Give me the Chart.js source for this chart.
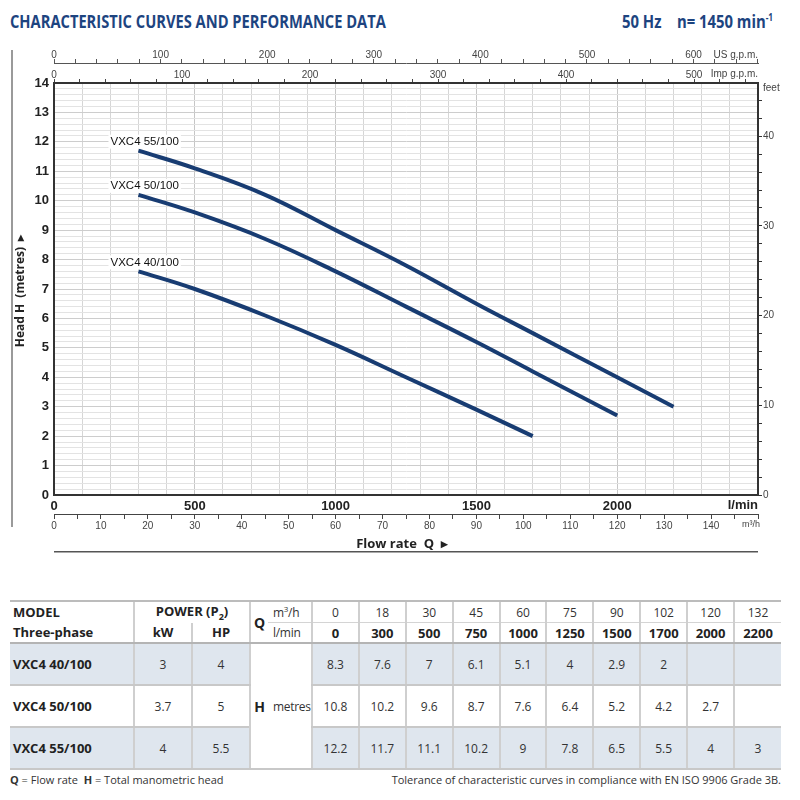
<!DOCTYPE html>
<html>
<head>
<meta charset="UTF-8">
<title>VXC4 - Characteristic curves and performance data</title>
<script src="https://cdn.jsdelivr.net/npm/chart.js"></script>
<style>
  body { margin: 0; width: 800px; height: 800px; position: relative; overflow: hidden; background: #fff; font-family: "Open Sans", Arial, sans-serif; }
  .head { position: absolute; top: 9px; font-weight: 700; font-size: 18px; color: #1d4480; white-space: nowrap; }
  #title { left: 10px; transform-origin: left center; }
  #speed { right: 27px; transform-origin: right center; }
  #speed sup { font-size: 10px; }
  #chartBox { position: absolute; left: 0; top: 0; width: 800px; height: 560px; }
  #perf { position: absolute; left: 10px; top: 600px; width: 771px; border-collapse: collapse; table-layout: fixed; font-size: 12px; color: #333; }
  #perf td { padding: 0; text-align: center; border: none; }
  #perf tr.h1 td { height: 20px; border-top: 2px solid #bcbcbc; }
  #perf tr.h2 td { height: 19px; border-bottom: 2px solid #b4b4b4; }
  #perf tr.d td { height: 40px; border-bottom: 2px solid #c8c8c8; }
  #perf tr.shade td { background: #dfe6ee; }
  #perf td.vl { border-left: 2px solid #cfcfcf; }
  #perf td.mid { border-bottom: 1px solid #d4d4d4; }
  #perf td.model { text-align: left; padding-left: 3px; font-weight: 700; font-size: 13px; color: #222; }
  #perf td.b { font-weight: 700; color: #222; }
  #perf td.big { font-weight: 700; font-size: 14px; color: #222; }
  #perf td.unit { text-align: left; padding-left: 5px; letter-spacing: -0.3px; }
  #perf tr.shade td.white { background: #fff; }
  .foot { position: absolute; top: 772px; font-size: 11px; color: #333; white-space: nowrap; }
</style>
</head>
<body>
<div id="title" class="head">CHARACTERISTIC CURVES AND PERFORMANCE DATA</div>
<div id="speed" class="head">50 Hz &nbsp;&nbsp; n= 1450 min<sup>-1</sup></div>
<div id="chartBox"><canvas id="curveChart" width="800" height="560"></canvas></div>
<table id="perf"></table>
<div class="foot" style="left:10px"><b>Q</b> = Flow rate &nbsp;<b>H</b> = Total manometric head</div>
<div class="foot" id="tol" style="right:19px">Tolerance of characteristic curves in compliance with EN ISO 9906 Grade 3B.</div>

<script>
  // performance table values (also used for the curves)
  const flowM3h = [0, 18, 30, 45, 60, 75, 90, 102, 120, 132];
  const flowLmin = [0, 300, 500, 750, 1000, 1250, 1500, 1700, 2000, 2200];
  const models = ['VXC4 40/100', 'VXC4 50/100', 'VXC4 55/100'];
  const powerKw = [3, 3.7, 4];
  const powerHp = [4, 5, 5.5];
  const head40 = [8.3, 7.6, 7, 6.1, 5.1, 4, 2.9, 2, null, null];
  const head50 = [10.8, 10.2, 9.6, 8.7, 7.6, 6.4, 5.2, 4.2, 2.7, null];
  const head55 = [12.2, 11.7, 11.1, 10.2, 9, 7.8, 6.5, 5.5, 4, 3];
  const heads = [head40, head50, head55];

  // axis ranges
  const maxLmin = 2500;
  const maxHead = 14;
  const curveFrom = 300;   // curves are drawn from 300 l/min on
  const LMIN_PER_M3H = 1000 / 60;
  const LMIN_PER_USGPM = 3.78541;
  const LMIN_PER_IMPGPM = 4.54609;
  const FT_PER_M = 3.28084;

  // fit the heading texts to the width of the original
  function squeeze(id, w) {
    const el = document.getElementById(id);
    el.style.transform = 'scaleX(' + (w / el.offsetWidth) + ')';
  }
  squeeze('title', 376);
  squeeze('speed', 151);

  // ---------- table ----------
  function buildTable() {
    let html = '<colgroup><col style="width:124px"><col style="width:58px"><col style="width:58px">' +
               '<col style="width:18px"><col style="width:44px">';
    flowM3h.forEach(() => { html += '<col>'; });
    html += '</colgroup>';

    html += '<tr class="h1"><td class="model" rowspan="2" style="border-bottom:2px solid #b4b4b4;line-height:20px">MODEL<br>Three-phase</td>' +
            '<td class="vl b" colspan="2" style="font-size:13px">POWER (P<sub style="font-size:9px">2</sub>)</td>' +
            '<td class="vl big" rowspan="2" style="border-bottom:2px solid #b4b4b4">Q</td>' +
            '<td class="mid unit">m<sup style="font-size:8px">3</sup>/h</td>';
    flowM3h.forEach(v => { html += '<td class="vl mid">' + v + '</td>'; });
    html += '</tr>';

    html += '<tr class="h2"><td class="vl b" style="font-size:13px">kW</td><td class="vl b" style="font-size:13px">HP</td>' +
            '<td class="unit">l/min</td>';
    flowLmin.forEach(v => { html += '<td class="vl b" style="font-size:13px">' + v + '</td>'; });
    html += '</tr>';

    models.forEach((m, i) => {
      html += '<tr class="d' + (i % 2 === 0 ? ' shade' : '') + '"><td class="model">' + m + '</td>' +
              '<td class="vl">' + powerKw[i] + '</td><td class="vl">' + powerHp[i] + '</td>';
      if (i === 0) {
        html += '<td class="vl big white" rowspan="3">H</td><td class="white unit" rowspan="3" style="font-size:12px">metres</td>';
      }
      heads[i].forEach(h => { html += '<td class="vl">' + (h === null ? '' : h) + '</td>'; });
      html += '</tr>';
    });
    document.getElementById('perf').innerHTML = html;
  }
  buildTable();

  // ---------- chart ----------
  function curvePoints(h) {
    const pts = [];
    flowLmin.forEach((q, i) => {
      if (q >= curveFrom && h[i] !== null) pts.push({ x: q, y: h[i] });
    });
    return pts;
  }

  const isMultiple = (v, n) => Math.abs(v / n - Math.round(v / n)) < 1e-6;
  const tickFont = { family: '"Liberation Sans", Arial, sans-serif', size: 10 };
  const boldFont = { family: '"Liberation Sans", Arial, sans-serif', size: 13, weight: 'bold' };

  // extra texts: unit names, axis titles, curve names
  const extras = {
    id: 'extras',
    afterDraw(chart) {
      const { ctx, chartArea: a, scales } = chart;
      ctx.save();

      // grey bar on the far left
      ctx.fillStyle = '#9a9a9a';
      ctx.fillRect(11, 50, 2, 477);

      // rule under the flow-rate title
      ctx.fillStyle = '#555';
      ctx.fillRect(a.left, 551, a.right - a.left, 1.5);

      ctx.fillStyle = '#444';
      ctx.font = '10px "Liberation Sans", Arial, sans-serif';
      ctx.textBaseline = 'middle';
      ctx.textAlign = 'right';
      ctx.fillText('US g.p.m.', a.right, scales.us.bottom - 8);
      ctx.fillText('Imp g.p.m.', a.right, scales.imp.bottom - 9);
      ctx.font = '9px "Liberation Sans", Arial, sans-serif';
      ctx.fillText('m³/h', a.right + 2, scales.m3h.top + 11);
      ctx.textAlign = 'left';
      ctx.font = '10px "Liberation Sans", Arial, sans-serif';
      ctx.fillText('feet', a.right + 5, a.top + 5);

      ctx.fillStyle = '#222';
      ctx.font = 'bold 13px "Liberation Sans", Arial, sans-serif';
      ctx.textAlign = 'right';
      ctx.fillText('l/min', a.right, scales.x.bottom - 9);

      // axis titles
      ctx.font = 'bold 13px "Open Sans", Arial, sans-serif';
      ctx.textAlign = 'center';
      ctx.fillText('Flow rate  Q  ▸', (a.left + a.right) / 2 - 4, 544);
      ctx.save();
      ctx.translate(21, 291);
      ctx.rotate(-Math.PI / 2);
      ctx.font = 'bold 12px "Open Sans", Arial, sans-serif';
      ctx.fillText('Head H  (metres)  ▸', 0, 0);
      ctx.restore();

      // curve names above the curve starts
      ctx.font = '11.5px "Liberation Sans", Arial, sans-serif';
      ctx.textAlign = 'left';
      chart.data.datasets.forEach(ds => {
        const p = ds.data[0];
        const px = scales.x.getPixelForValue(p.x) - 28;
        const py = scales.y.getPixelForValue(p.y) - 9;
        const w = ctx.measureText(ds.label).width;
        ctx.fillStyle = '#fff';
        ctx.fillRect(px - 2, py - 7, w + 4, 14);
        ctx.fillStyle = '#111';
        ctx.fillText(ds.label, px, py);
      });
      ctx.restore();
    }
  };

  new Chart(document.getElementById('curveChart'), {
    type: 'line',
    data: {
      datasets: models.map((m, i) => ({
        label: m,
        data: curvePoints(heads[i]),
        borderColor: '#183c72',
        borderWidth: 4,
        pointRadius: 0,
        tension: 0.4,
        fill: false
      }))
    },
    options: {
      responsive: false,
      animation: false,
      layout: { padding: { left: 12, right: 0, top: 47, bottom: 26 } },
      plugins: { legend: { display: false }, tooltip: { enabled: false } },
      scales: {
        x: {
          type: 'linear', position: 'bottom', weight: 0, bounds: 'data',
          min: 0, max: maxLmin,
          afterFit: s => { s.height = 19; },
          border: { display: true, color: '#333', width: 2 },
          grid: {
            drawTicks: false,
            color: c => isMultiple(c.tick.value, 500) ? '#c6c6c6' : '#d6d6d6',
            lineWidth: 1
          },
          ticks: {
            stepSize: 100, includeBounds: false, maxRotation: 0, autoSkip: false, padding: 4,
            color: '#222', font: boldFont,
            callback: v => (isMultiple(v, 500) && v < maxLmin) ? String(v) : ''
          }
        },
        m3h: {
          type: 'linear', axis: 'x', position: 'bottom', weight: 1, bounds: 'data',
          min: 0, max: maxLmin / LMIN_PER_M3H,
          afterFit: s => { s.height = 20; },
          border: { display: true, color: '#444', width: 1 },
          grid: { drawOnChartArea: false, tickLength: 5, tickColor: '#444' },
          ticks: {
            stepSize: 5, includeBounds: false, maxRotation: 0, autoSkip: false, padding: 1,
            color: '#444', font: tickFont,
            callback: v => (isMultiple(v, 10) && v < 150) ? String(v) : ''
          }
        },
        imp: {
          type: 'linear', axis: 'x', position: 'top', weight: 0, bounds: 'data',
          min: 0, max: maxLmin / LMIN_PER_IMPGPM,
          afterFit: s => { s.height = 20; },
          border: { display: true, color: '#333', width: 2 },
          grid: { drawOnChartArea: false, tickLength: 4, tickColor: '#444' },
          ticks: {
            stepSize: 20, includeBounds: false, maxRotation: 0, autoSkip: false, padding: -2,
            color: '#444', font: tickFont,
            callback: v => isMultiple(v, 100) ? String(v) : ''
          }
        },
        us: {
          type: 'linear', axis: 'x', position: 'top', weight: 1, bounds: 'data',
          min: 0, max: maxLmin / LMIN_PER_USGPM,
          afterFit: s => { s.height = 16; },
          border: { display: true, color: '#555', width: 1 },
          grid: { drawOnChartArea: false, tickLength: 4, tickColor: '#555' },
          ticks: {
            stepSize: 20, includeBounds: false, maxRotation: 0, autoSkip: false, padding: -2,
            color: '#444', font: tickFont,
            callback: v => isMultiple(v, 100) ? String(v) : ''
          }
        },
        y: {
          type: 'linear', position: 'left', bounds: 'data',
          min: 0, max: maxHead,
          afterFit: s => { s.width = 42; },
          border: { display: true, color: '#333', width: 2 },
          grid: {
            drawTicks: false,
            color: c => isMultiple(c.tick.value, 1) ? '#cdcdcd' : '#e3e3e3',
            lineWidth: 1
          },
          ticks: {
            stepSize: 0.2, includeBounds: false, autoSkip: false, padding: 5,
            color: '#222', font: boldFont,
            callback: v => isMultiple(v, 1) ? String(Math.round(v)) : ''
          }
        },
        feet: {
          type: 'linear', axis: 'y', position: 'right', bounds: 'data',
          min: 0, max: maxHead * FT_PER_M,
          afterFit: s => { s.width = 42; },
          border: { display: true, color: '#333', width: 2 },
          grid: { drawOnChartArea: false, tickLength: 4, tickColor: '#333' },
          ticks: {
            stepSize: 2, includeBounds: false, autoSkip: false, padding: 1,
            color: '#444', font: tickFont,
            callback: v => isMultiple(v, 10) ? String(v) : ''
          }
        }
      }
    },
    plugins: [extras]
  });
</script>
</body>
</html>
